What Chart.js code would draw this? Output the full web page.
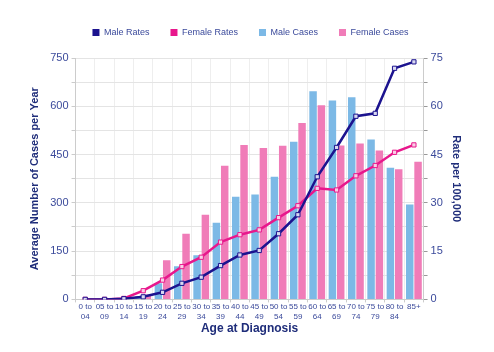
<!DOCTYPE html>
<html>
<head>
<meta charset="utf-8">
<script src="https://cdn.jsdelivr.net/npm/chart.js@4"></script>
<style>
  html, body { margin: 0; padding: 0; background: #fff; }
  #wrap { width: 494px; height: 352px; }
</style>
</head>
<body>
<div id="wrap"><canvas id="chart" width="494" height="352"></canvas></div>
<script>
// Age groups on the x axis (two-line tick labels)
const ageGroups = [
  ['0 to', '04'], ['05 to', '09'], ['10 to', '14'], ['15 to', '19'], ['20 to', '24'],
  ['25 to', '29'], ['30 to', '34'], ['35 to', '39'], ['40 to', '44'], ['45 to', '49'],
  ['50 to', '54'], ['55 to', '59'], ['60 to', '64'], ['65 to', '69'], ['70 to', '74'],
  ['75 to', '79'], ['80 to', '84'], '85+'
];

// Average number of cases per year (left axis)
const maleCases   = [0, 0, 2, 10, 50, 103, 137, 238, 319, 326, 381, 490, 647, 618, 628, 497, 409, 295];
const femaleCases = [0, 0, 3, 15, 122, 204, 263, 415, 480, 470, 477, 548, 603, 478, 484, 463, 404, 428];

// Rate per 100,000 (right axis)
const maleRates   = [0, 0, 0.2, 0.8, 2.2, 5.0, 6.9, 10.5, 13.8, 15.2, 20.4, 26.3, 38.1, 47.2, 56.9, 57.8, 71.8, 73.8];
const femaleRates = [0, 0, 0.3, 2.7, 6.0, 10.2, 13.1, 17.8, 20.1, 21.6, 25.4, 29.1, 34.5, 34.0, 38.4, 41.6, 45.7, 48.0];

const leftTicks = [0, 150, 300, 450, 600, 750];
const rightTicks = [0, 15, 30, 45, 60, 75];

const tickColor = '#3b4a9b';
const titleColor = '#1f2d7a';
const gridColor = '#e4e4e4';
const fontFamily = 'Liberation Sans, Arial, sans-serif';

// nudge the legend: a bit more room under it, and shifted right like the original
const legendTweak = {
  id: 'legendTweak',
  beforeInit(chart) {
    const origFit = chart.legend.fit;
    chart.legend.fit = function() {
      origFit.call(this);
      this.height += 11;
    };
  },
  afterLayout(chart) {
    chart.legend.left += 3;
    chart.legend.right += 3;
  }
};

const ctx = document.getElementById('chart');

new Chart(ctx, {
  type: 'bar',
  data: {
    labels: ageGroups,
    datasets: [
      {
        type: 'line',
        label: 'Male Rates',
        data: maleRates,
        yAxisID: 'yRate',
        borderColor: '#1c138f',
        backgroundColor: '#ffffff',
        borderWidth: 2.5,
        pointStyle: 'rect',
        pointRadius: 3,
        pointBorderWidth: 1,
        pointBackgroundColor: '#d8d8f0',
        tension: 0,
        order: 0
      },
      {
        type: 'line',
        label: 'Female Rates',
        data: femaleRates,
        yAxisID: 'yRate',
        borderColor: '#e8178c',
        backgroundColor: '#ffffff',
        borderWidth: 2.5,
        pointStyle: 'rect',
        pointRadius: 3,
        pointBorderWidth: 1,
        pointBackgroundColor: '#f8d0e6',
        tension: 0,
        order: 1
      },
      {
        label: 'Male Cases',
        data: maleCases,
        yAxisID: 'yCases',
        backgroundColor: '#7cb9e6',
        barPercentage: 0.9,
        categoryPercentage: 0.86,
        order: 2
      },
      {
        label: 'Female Cases',
        data: femaleCases,
        yAxisID: 'yCases',
        backgroundColor: '#f07cb8',
        barPercentage: 0.9,
        categoryPercentage: 0.86,
        order: 3
      }
    ]
  },
  plugins: [legendTweak],
  options: {
    responsive: false,
    animation: false,
    layout: { padding: { top: 7, left: 24, right: 23, bottom: 12 } },
    plugins: {
      tooltip: { enabled: false },
      legend: {
        position: 'top',
        labels: {
          color: tickColor,
          font: { family: fontFamily, size: 9 },
          boxWidth: 7,
          boxHeight: 7,
          padding: 21,
          generateLabels: chart => {
            const items = Chart.defaults.plugins.legend.labels.generateLabels(chart);
            items.forEach(item => {
              const ds = chart.data.datasets[item.datasetIndex];
              if (ds.type === 'line') {
                item.fillStyle = ds.borderColor;
                item.strokeStyle = ds.borderColor;
              }
              item.lineWidth = 0;
            });
            return items;
          }
        }
      }
    },
    scales: {
      x: {
        offset: true,
        grid: { color: '#eeeeee', drawTicks: true, tickLength: 3, tickColor: '#cccccc' },
        border: { color: '#cccccc' },
        ticks: {
          color: tickColor,
          maxRotation: 0,
          autoSkip: false,
          padding: 0,
          font: { family: fontFamily, size: 8 }
        },
        title: {
          display: true,
          text: 'Age at Diagnosis',
          color: titleColor,
          padding: { top: 0 },
          font: { family: fontFamily, size: 12, weight: 'bold' }
        }
      },
      yCases: {
        position: 'left',
        min: 0,
        max: 750,
        grid: { color: gridColor, tickLength: 4, tickColor: '#cccccc' },
        border: { color: '#cccccc' },
        ticks: {
          stepSize: 75,
          color: tickColor,
          padding: 3,
          font: { family: fontFamily, size: 11 },
          callback: v => leftTicks.includes(v) ? v : ''
        },
        title: {
          display: true,
          text: 'Average Number of Cases per Year',
          color: titleColor,
          padding: { bottom: 6 },
          font: { family: fontFamily, size: 11, weight: 'bold' }
        }
      },
      yRate: {
        position: 'right',
        min: 0,
        max: 75,
        grid: { drawOnChartArea: false, tickLength: 4, tickColor: '#999999' },
        border: { color: '#cccccc' },
        ticks: {
          stepSize: 7.5,
          color: tickColor,
          padding: 3,
          font: { family: fontFamily, size: 11 },
          callback: v => rightTicks.includes(v) ? v : ''
        },
        title: {
          display: true,
          text: 'Rate per 100,000',
          color: titleColor,
          padding: { top: 8 },
          font: { family: fontFamily, size: 11, weight: 'bold' }
        }
      }
    }
  }
});
</script>
</body>
</html>
